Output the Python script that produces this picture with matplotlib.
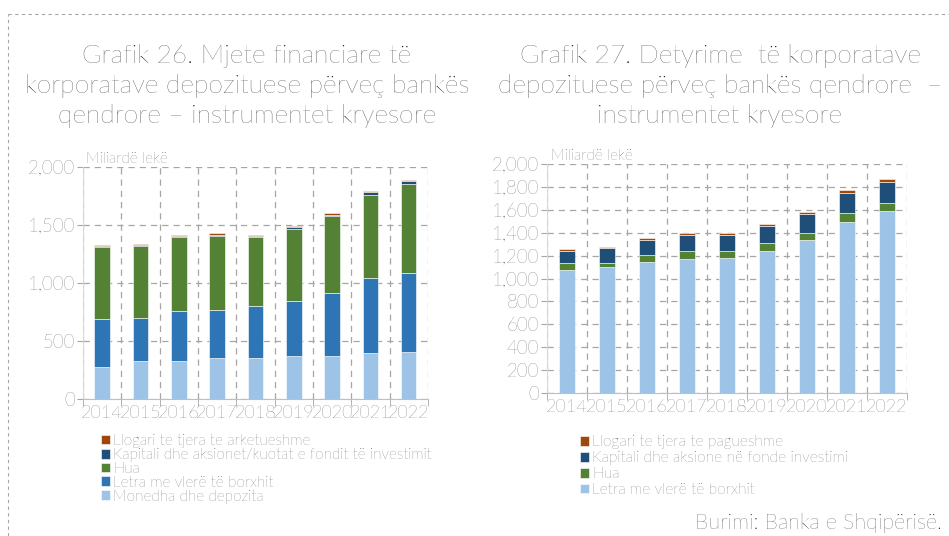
import matplotlib.pyplot as plt
import numpy as np
from matplotlib.ticker import FuncFormatter, FixedLocator

plt.rcParams['font.family'] = ['Lato', 'DejaVu Sans']
plt.rcParams['font.weight'] = 'light'

years = ['2014', '2015', '2016', '2017', '2018', '2019', '2020', '2021', '2022']

# Grafik 26 - mjete financiare
monedha = [273, 328, 328, 354, 357, 371, 368, 397, 403]
letra_26 = [420, 374, 429, 417, 443, 478, 550, 650, 682]
hua_26 = [616, 613, 639, 633, 596, 616, 656, 708, 768]
kapitali_26 = [12, 12, 8, 12, 11, 14, 12, 26, 23]
llogari_26 = [9, 8, 12, 11, 9, 9, 20, 12, 14]

# Grafik 27 - detyrime
letra_27 = [1077, 1098, 1147, 1173, 1182, 1243, 1339, 1496, 1587]
hua_27 = [58, 37, 58, 67, 55, 64, 55, 76, 75]
kapitali_27 = [108, 128, 134, 143, 143, 154, 166, 175, 184]
llogari_27 = [18, 15, 18, 11, 14, 15, 21, 26, 26]

c_light = '#9DC3E6'
c_blue = '#2E75B6'
c_green = '#548235'
c_navy = '#1F4E79'
c_brown = '#9E480E'
txt = '#303030'

fig = plt.figure(figsize=(9.49, 5.36), dpi=100)


def style_axes(ax, yticks):
    n = len(years)
    x = np.arange(n)
    ax.set_xlim(-0.5, n - 0.5)
    ax.set_ylim(0, 2000)
    ax.set_xticks(x)
    ax.set_xticklabels(years, fontsize=13, color=txt)
    ax.xaxis.set_minor_locator(FixedLocator(np.arange(-0.5, n, 1.0)))
    ax.tick_params(axis='x', which='major', length=0, pad=4)
    ax.tick_params(axis='x', which='minor', length=5, color='#A6A6A6')
    ax.set_yticks(yticks)
    ax.yaxis.set_major_formatter(FuncFormatter(lambda v, p: f'{int(v):,}'))
    ax.tick_params(axis='y', labelsize=13.5, labelcolor=txt, length=4, color='#A6A6A6', pad=2)
    ax.grid(True, axis='y', which='major', linestyle=(0, (5, 4)), color='#A6A6A6', linewidth=0.9)
    ax.grid(True, axis='x', which='minor', linestyle=(0, (5, 4)), color='#A6A6A6', linewidth=0.9)
    ax.set_axisbelow(True)
    for s in ['top', 'right']:
        ax.spines[s].set_visible(False)
    ax.spines['left'].set_color('#D9D9D9')
    ax.spines['bottom'].set_color('#BFBFBF')


def stack(ax, series, colors, labels):
    x = np.arange(len(years))
    bottom = np.zeros(len(years))
    handles = []
    for vals, col, lab in zip(series, colors, labels):
        b = ax.bar(x, vals, 0.4, bottom=bottom, color=col, edgecolor='white',
                   linewidth=0.4, label=lab, zorder=3)
        handles.append(b)
        bottom += np.array(vals)
    return handles


# left chart
ax1 = fig.add_axes([83 / 949, 1 - 399 / 536, 345 / 949, 232 / 536])
style_axes(ax1, [0, 500, 1000, 1500, 2000])
h1 = stack(ax1, [monedha, letra_26, hua_26, kapitali_26, llogari_26],
           [c_light, c_blue, c_green, c_navy, c_brown],
           ['Monedha dhe depozita', 'Letra me vlerë të borxhit', 'Hua',
            'Kapitali dhe aksionet/kuotat e fondit të investimit',
            'Llogari te tjera te arketueshme'])
ax1.text(0.01, 1.005, 'Miliardë lekë', transform=ax1.transAxes, fontsize=11,
         color=txt, va='bottom')
fig.legend(h1[::-1], [h.get_label() for h in h1[::-1]], loc='upper left',
           bbox_to_anchor=(93 / 949, 1 - 426 / 536), frameon=False, fontsize=11,
           labelcolor=txt, handlelength=0.6, handleheight=0.6, handletextpad=0.2,
           labelspacing=-0.02, borderpad=0)

# right chart
ax2 = fig.add_axes([547 / 949, 1 - 393 / 536, 360 / 949, 229 / 536])
style_axes(ax2, list(range(0, 2001, 200)))
h2 = stack(ax2, [letra_27, hua_27, kapitali_27, llogari_27],
           [c_light, c_green, c_navy, c_brown],
           ['Letra me vlerë të borxhit', 'Hua',
            'Kapitali dhe aksione në fonde investimi',
            'Llogari te tjera te pagueshme'])
ax2.text(0.01, 1.005, 'Miliardë lekë', transform=ax2.transAxes, fontsize=11,
         color=txt, va='bottom')
fig.legend(h2[::-1], [h.get_label() for h in h2[::-1]], loc='upper left',
           bbox_to_anchor=(572 / 949, 1 - 427 / 536), frameon=False, fontsize=11.2,
           labelcolor=txt, handlelength=0.6, handleheight=0.6, handletextpad=0.2,
           labelspacing=0.12, borderpad=0)

# titles
fig.text(247 / 949, 1 - 86 / 536,
         'Grafik 26. Mjete financiare të\nkorporatave depozituese përveç bankës\nqendrore – instrumentet kryesore',
         ha='center', va='center', fontsize=19, color='#1A1A1A', linespacing=1.3)
fig.text(720 / 949, 1 - 86 / 536,
         'Grafik 27. Detyrime  të korporatave\ndepozituese përveç bankës qendrore  –\ninstrumentet kryesore',
         ha='center', va='center', fontsize=19, color='#1A1A1A', linespacing=1.3)

fig.text(942 / 949, 1 - 523 / 536, 'Burimi: Banka e Shqipërisë.', ha='right',
         va='center', fontsize=15.5, color='#1A1A1A')

# dashed frame
fig.add_artist(plt.Line2D([8 / 949, 1], [1 - 14 / 536] * 2, transform=fig.transFigure,
                          color='#A6A6A6', linestyle=(0, (3, 3)), linewidth=0.8))
fig.add_artist(plt.Line2D([8 / 949] * 2, [0, 1 - 14 / 536], transform=fig.transFigure,
                          color='#A6A6A6', linestyle=(0, (3, 3)), linewidth=0.8))

fig.savefig('out.png', dpi=100)
